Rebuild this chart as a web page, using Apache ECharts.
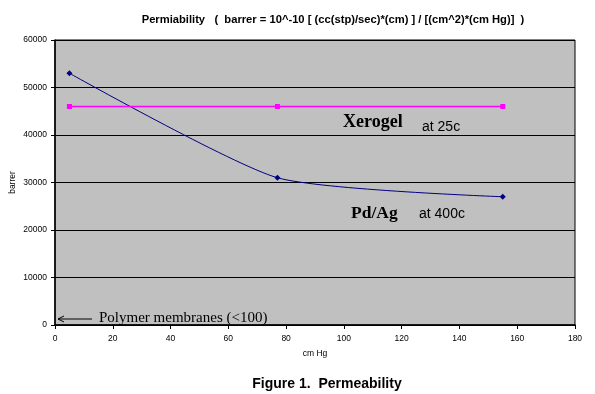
<!DOCTYPE html>
<html><head><meta charset="utf-8">
<script src="https://cdn.jsdelivr.net/npm/echarts@6/dist/echarts.min.js"></script>
<style>html,body{margin:0;padding:0;background:#fff}#c{width:595px;height:394px}</style>
</head><body><div id="c"></div>
<script>
const pressure = [5, 77, 155];
const pdAg = [53000, 31000, 27000];
const xerogel = [46000, 46000, 46000];
const yTicks = [0, 10000, 20000, 30000, 40000, 50000, 60000];
const xTicks = [0, 20, 40, 60, 80, 100, 120, 140, 160, 180];

const chart = echarts.init(document.getElementById('c'), null, {renderer: 'canvas'});
const lab = {fontFamily: 'Arial, Liberation Sans', fontSize: 8.5, color: '#000'};
const serifB = '"Liberation Serif", "Times New Roman", serif';
chart.setOption({
  backgroundColor: '#ffffff',
  animation: false,
  title: [{
    text: 'Permiability   (  barrer = 10^-10 [ (cc(stp)/sec)*(cm) ] / [(cm^2)*(cm Hg)]  )',
    left: 328, top: 9, textAlign: 'center',
    textStyle: {fontFamily: 'Arial, Liberation Sans', fontSize: 11.2, fontWeight: 'bold', color: '#000'}
  }, {
    text: 'Figure 1.  Permeability',
    left: 322, top: 372, textAlign: 'center',
    textStyle: {fontFamily: 'Arial, Liberation Sans', fontSize: 14, fontWeight: 'bold', color: '#000'}
  }],
  grid: {left: 55, right: 20, top: 40, bottom: 69, containLabel: false, outerBoundsMode: 'none', show: true, backgroundColor: '#c0c0c0', borderColor: '#000', borderWidth: 1},
  xAxis: {
    type: 'value', min: 0, max: 180, interval: 20,
    name: 'cm Hg', nameLocation: 'middle', nameGap: 24, nameMoveOverlap: false,
    nameTextStyle: lab,
    axisLine: {show: true, onZero: false, lineStyle: {color: '#000', width: 1.5}},
    axisTick: {show: true, length: 4, lineStyle: {color: '#000'}},
    axisLabel: Object.assign({margin: 9, formatter: v => xTicks.includes(v) ? String(v) : ''}, lab),
    splitLine: {show: false}
  },
  yAxis: {
    type: 'value', min: 0, max: 60000, interval: 10000,
    name: 'barrer', nameLocation: 'middle', nameGap: 38, nameRotate: 90, nameMoveOverlap: false,
    nameTextStyle: lab,
    axisLine: {show: true, lineStyle: {color: '#000', width: 1.5}},
    axisTick: {show: true, length: 4, lineStyle: {color: '#000'}},
    axisLabel: Object.assign({margin: 8, formatter: v => yTicks.includes(v) ? String(v) : ''}, lab),
    splitLine: {show: true, lineStyle: {color: '#000', width: 1}}
  },
  series: [{
    name: 'Pd/Ag', type: 'line', smooth: 0.2,
    data: pressure.map((x, i) => [x, pdAg[i]]),
    symbol: 'diamond', symbolSize: 6,
    lineStyle: {color: '#000080', width: 1},
    itemStyle: {color: '#000080'}
  }, {
    name: 'Xerogel', type: 'line',
    data: pressure.map((x, i) => [x, xerogel[i]]),
    symbol: 'rect', symbolSize: 5,
    lineStyle: {color: '#ff00ff', width: 1.5},
    itemStyle: {color: '#ff00ff'}
  }],
  graphic: [
    {type: 'text', x: 343, y: 122, style: {text: 'Xerogel', font: 'bold 18px ' + serifB, fill: '#000', verticalAlign: 'middle'}},
    {type: 'text', x: 422, y: 127, style: {text: 'at 25c', font: '14px Arial, "Liberation Sans"', fill: '#000', verticalAlign: 'middle'}},
    {type: 'text', x: 351, y: 213, style: {text: 'Pd/Ag', font: 'bold 17.5px ' + serifB, fill: '#000', verticalAlign: 'middle'}},
    {type: 'text', x: 419, y: 214, style: {text: 'at 400c', font: '14px Arial, "Liberation Sans"', fill: '#000', verticalAlign: 'middle'}},
    {type: 'text', x: 99, y: 318, style: {text: 'Polymer membranes (<100)', font: '15px ' + serifB, fill: '#000', verticalAlign: 'middle'}},
    {type: 'line', shape: {x1: 58, y1: 319, x2: 92, y2: 319}, style: {stroke: '#000', lineWidth: 1}},
    {type: 'polyline', shape: {points: [[64, 316], [58, 319], [64, 322]]}, style: {stroke: '#000', lineWidth: 1, fill: null}}
  ]
});
</script></body></html>
